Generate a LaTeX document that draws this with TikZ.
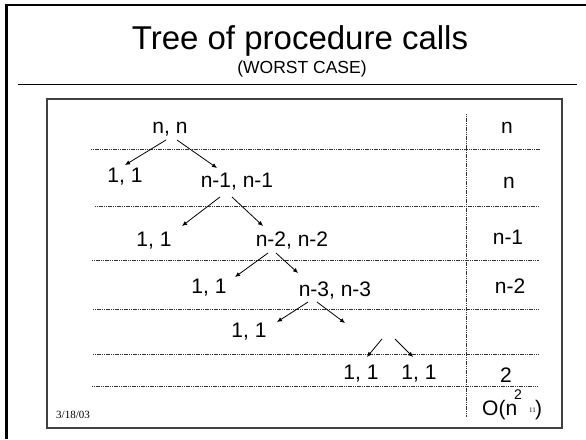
\documentclass[tikz,border=0pt]{standalone}
\usepackage{fontspec}
\setmainfont{Liberation Sans}
\newfontfamily\serifdate{Liberation Serif}
\usetikzlibrary{arrows.meta}
\tikzset{
  lbl/.style={inner sep=0pt, anchor=base, font=\fontsize{21}{21}\selectfont},
  arr/.style={line width=0.8pt, -{Latex[length=5pt,width=4.5pt]}},
  dsh/.style={line width=0.7pt, draw=black!80, dash pattern=on 1.2pt off 0.6pt},
}
\begin{document}
\begin{tikzpicture}[x=1pt,y=-1pt]
\useasboundingbox (0,0) rectangle (586,439);
% slide frame
\draw[line width=2.5pt] (6.5,439) -- (6.5,5) -- (586,5);
\node[inner sep=0pt, anchor=base, font=\fontsize{33}{33}\selectfont] (title) at (300,49) {Tree of procedure calls};
\node[inner sep=0pt, anchor=base, font=\fontsize{17.5}{17.5}\selectfont] (sub) at (302,73) {(WORST CASE)};
\draw[line width=1pt] (18,84) -- (577,84);
% inner box
\draw[line width=1.2pt, draw=black!75] (47,99) rectangle (562,428);
% grid
\draw[dsh] (91,149) -- (540,149);
\draw[dsh] (95,206) -- (539,206);
\draw[dsh] (92,260) -- (539,260);
\draw[dsh] (93,309) -- (538,309);
\draw[dsh] (93,354) -- (538,354);
\draw[dsh] (92,386) -- (538,386);
\draw[dsh] (466,114) -- (466,417);
% tree nodes
\node[lbl] (nn) at (170,133) {n, n};
\node[lbl] (c1) at (125,182) {1, 1};
\node[lbl] (m1) at (237,187) {n-1, n-1};
\node[lbl] (c2) at (154,246) {1, 1};
\node[lbl] (m2) at (292,246) {n-2, n-2};
\node[lbl] (c3) at (209,293) {1, 1};
\node[lbl] (m3) at (335,296) {n-3, n-3};
\node[lbl] (c4) at (249,337) {1, 1};
\node[lbl] (c5) at (361,379) {1, 1};
\node[lbl] (c6) at (419,379) {1, 1};
\coordinate (e8) at (345,323);
\coordinate (s9) at (382,339);
\coordinate (s10) at (395,339);
% arrows
\draw[arr] ([shift={(-4,7)}]nn.base) -- ([shift={(0,-17)}]c1.base);
\draw[arr] ([shift={(7,7)}]nn.base) -- ([shift={(-20,-19)}]m1.base);
\draw[arr] ([shift={(-17,10)}]m1.base) -- ([shift={(28,-20)}]c2.base);
\draw[arr] ([shift={(-5,10)}]m1.base) -- ([shift={(-29,-20)}]m2.base);
\draw[arr] ([shift={(-24,7)}]m2.base) -- ([shift={(26,-16)}]c3.base);
\draw[arr] ([shift={(-16,7)}]m2.base) -- ([shift={(-37,-23)}]m3.base);
\draw[arr] ([shift={(-27,6)}]m3.base) -- ([shift={(28,-15)}]c4.base);
\draw[arr] ([shift={(-18,6)}]m3.base) -- (e8);
\draw[arr] (s9) -- ([shift={(6,-22)}]c5.base);
\draw[arr] (s10) -- ([shift={(-6,-22)}]c6.base);
% right column
\node[lbl] (r1) at (507,133) {n};
\node[lbl] (r2) at (509,188) {n};
\node[lbl] (r3) at (508,244) {n-1};
\node[lbl] (r4) at (510,293) {n-2};
\node[lbl] (r5) at (506,382) {2};
\node[lbl, anchor=base west] (r6) at (482,415) {O(n};
\node[inner sep=0pt, anchor=base west, font=\fontsize{14}{14}\selectfont] (sup) at (514,399) {2};
\node[lbl, anchor=base west] (close) at (535,415) {)};
\node[inner sep=0pt, anchor=base west, font=\serifdate\fontsize{7}{7}\selectfont] (pg) at (529,412) {11};
% date
\node[inner sep=0pt, anchor=base west, font=\serifdate\fontsize{11}{11}\selectfont] (date) at (56,418) {3/18/03};
\end{tikzpicture}
\end{document}
